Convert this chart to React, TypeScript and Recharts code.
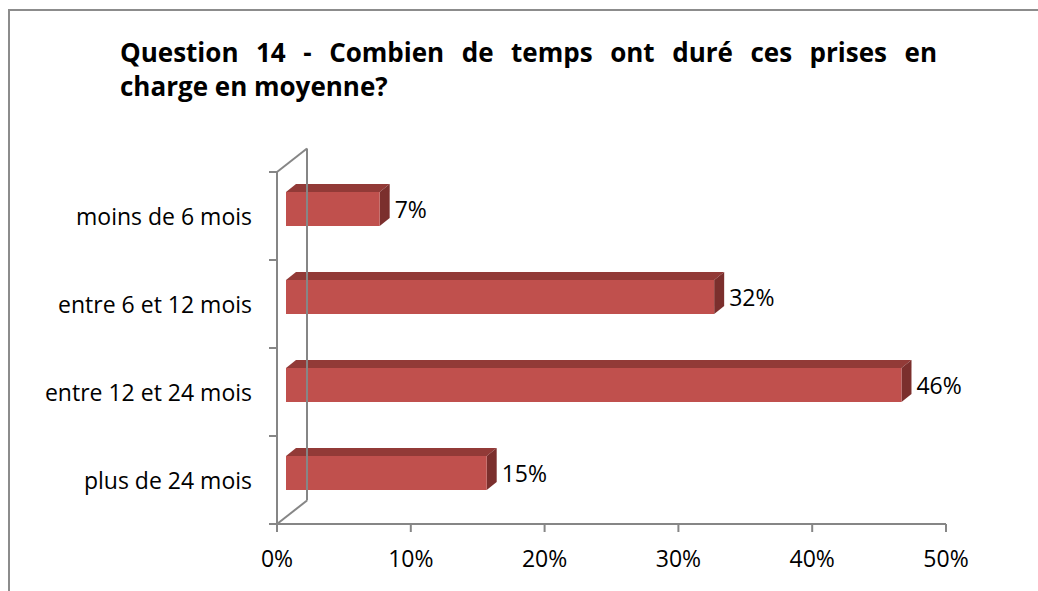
import { BarChart, Bar, XAxis, YAxis, ReferenceLine, LabelList } from "recharts";
import type { CSSProperties } from "react";

const categories = ["moins de 6 mois", "entre 6 et 12 mois", "entre 12 et 24 mois", "plus de 24 mois"];
const shares = [7, 32, 46, 15];
const xTicks = [0, 10, 20, 30, 40, 50];
const titleLine1 = "Question 14 - Combien de temps ont duré ces prises en";
const titleLine2 = "charge en moyenne?";

const FONT = "'Open Sans', 'Noto Sans', sans-serif";
const AXIS = "#868686";
const FRONT = "#c0504d";
const TOP = "#923a37";
const SIDE = "#7b2f2d";

// oblique 3D: wall depth, and where the bar sits inside it
const WALL_DX = 30;
const WALL_DY = -23.5;
const BAR_DX = 9;
const BAR_DY = -7;
const BAR_DEPTH_X = 10;
const BAR_DEPTH_Y = -8;
const CAT_TICK_MARGIN = 25;
const CAT_TICK_SIZE = 8;

const rows = categories.map((name, i) => ({ name, value: shares[i] }));

function Box3D(props: any) {
  const { x, y, width, height } = props;
  const fx = x + BAR_DX;
  const fy = y + BAR_DY;
  const ex = fx + width;
  const top = `${fx},${fy} ${fx + BAR_DEPTH_X},${fy + BAR_DEPTH_Y} ${ex + BAR_DEPTH_X},${fy + BAR_DEPTH_Y} ${ex},${fy}`;
  const side = `${ex},${fy} ${ex + BAR_DEPTH_X},${fy + BAR_DEPTH_Y} ${ex + BAR_DEPTH_X},${fy + BAR_DEPTH_Y + height} ${ex},${fy + height}`;
  return (
    <g>
      <polygon points={top} fill={TOP} />
      <polygon points={side} fill={SIDE} />
      <rect x={fx} y={fy} width={width} height={height} fill={FRONT} />
    </g>
  );
}

function Frame(props: any) {
  const { x1, y1, x2, y2 } = props;
  return (
    <g stroke={AXIS} strokeWidth={2} fill="none">
      <line x1={x1} y1={y1} x2={x1 + WALL_DX} y2={y1 + WALL_DY} />
      <line x1={x1 + WALL_DX} y1={y1 + WALL_DY} x2={x2 + WALL_DX} y2={y2 + WALL_DY} />
      <line x1={x2} y1={y2} x2={x2 + WALL_DX} y2={y2 + WALL_DY} />
    </g>
  );
}

// category label plus tick marks on the band edges (Excel style)
function CatTick(props: any) {
  const { x, y, payload, index } = props;
  const half = payload?.offset ?? 0;
  const ax = x + CAT_TICK_MARGIN;
  const last = index === categories.length - 1;
  return (
    <g>
      <line x1={ax - CAT_TICK_SIZE} y1={y - half} x2={ax} y2={y - half} stroke={AXIS} strokeWidth={2} />
      {last && <line x1={ax - CAT_TICK_SIZE} y1={y + half} x2={ax} y2={y + half} stroke={AXIS} strokeWidth={2} />}
      <text x={x} y={y} textAnchor="end" dominantBaseline="central" fontFamily={FONT} fontSize={23} fill="#000">
        {payload.value}
      </text>
    </g>
  );
}

function ValueLabel(props: any) {
  const { x, y, width, height, value } = props;
  return (
    <text
      x={x + width + BAR_DX + BAR_DEPTH_X + 5}
      y={y + height / 2 + BAR_DY}
      dominantBaseline="central"
      fontFamily={FONT}
      fontSize={23}
      fill="#000"
    >
      {`${value}%`}
    </text>
  );
}

export default function App() {
  return (
    <div style={page}>
      <div style={border} />
      <div style={titleBox}>
        <div style={{ textAlign: "justify", textAlignLast: "justify" }}>{titleLine1}</div>
        <div>{titleLine2}</div>
      </div>
      <BarChart
        width={1038}
        height={591}
        layout="vertical"
        data={rows}
        barSize={34}
        margin={{ top: 172, right: 92, bottom: 27, left: 0 }}
      >
        <XAxis
          type="number"
          domain={[0, 50]}
          ticks={xTicks}
          interval={0}
          tickFormatter={(v: number) => `${v}%`}
          stroke={AXIS}
          strokeWidth={2}
          tickSize={8}
          tickMargin={19}
          height={40}
          tick={{ fill: "#000", fontSize: 23, fontFamily: FONT }}
        />
        <YAxis
          type="category"
          dataKey="name"
          width={277}
          stroke={AXIS}
          strokeWidth={2}
          tickLine={false}
          tickSize={0}
          tickMargin={CAT_TICK_MARGIN}
          interval={0}
          tick={CatTick}
        />
        <ReferenceLine x={0} shape={Frame} />
        <Bar dataKey="value" shape={Box3D} isAnimationActive={false}>
          <LabelList dataKey="value" content={ValueLabel} />
        </Bar>
      </BarChart>
    </div>
  );
}

const page: CSSProperties = {
  position: "absolute",
  left: 0,
  top: 0,
  width: 1038,
  height: 591,
  overflow: "hidden",
  background: "#fff",
};

const border: CSSProperties = {
  position: "absolute",
  left: 8,
  top: 9,
  width: 1100,
  height: 700,
  borderLeft: "2px solid #8c8c8c",
  borderTop: "2px solid #8c8c8c",
};

const titleBox: CSSProperties = {
  position: "absolute",
  left: 120,
  top: 35,
  width: 817,
  fontFamily: FONT,
  fontWeight: 700,
  fontSize: 26,
  lineHeight: "34px",
  color: "#000",
  zIndex: 1,
};
